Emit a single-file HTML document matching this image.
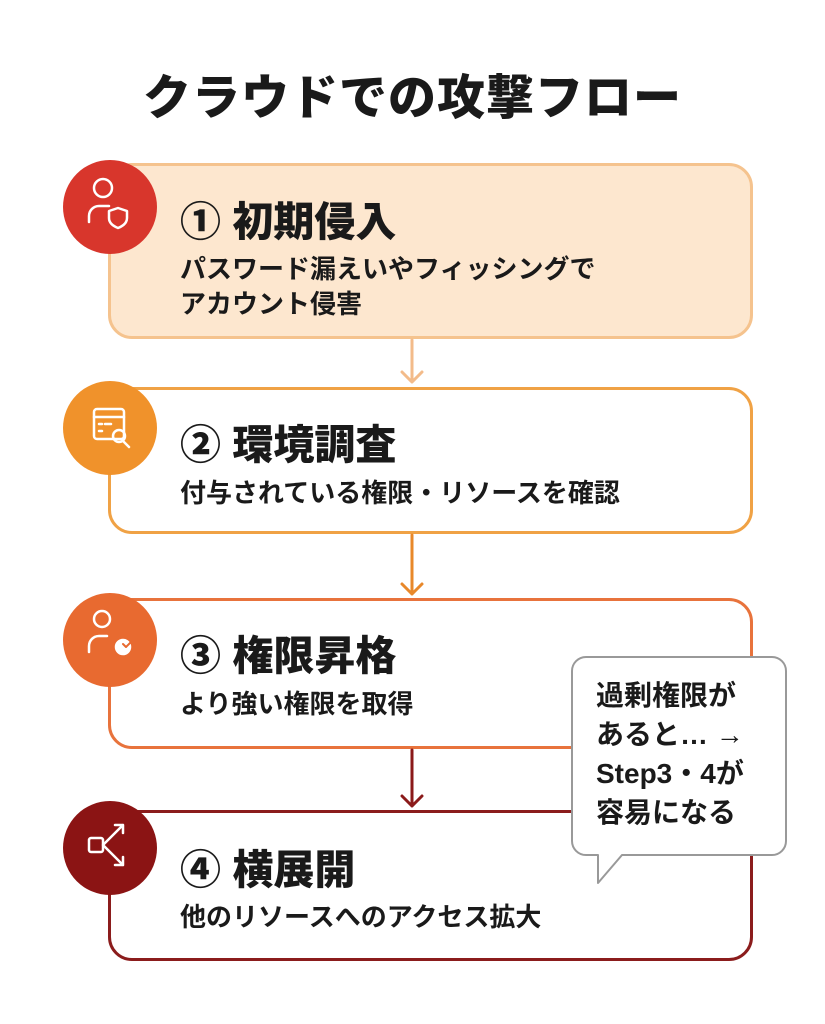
<!DOCTYPE html>
<html><head><meta charset="utf-8"><style>
body{margin:0;width:825px;height:1024px;background:#fff;position:relative;overflow:hidden;font-family:"Liberation Sans","Noto Sans CJK JP",sans-serif;color:#1a1a1a}
.t{position:absolute;left:0;width:825px;text-align:center;top:58px;font-size:48px;font-weight:900;letter-spacing:1px}
.box{position:absolute;left:108px;width:645px;border-radius:24px;box-sizing:border-box;border:3px solid}
.c{position:absolute;width:94px;height:94px;border-radius:50%}
.h{position:absolute;left:180px;font-size:41px;font-weight:900}
.d{position:absolute;left:180px;font-size:26px;font-weight:700;line-height:35px}
svg{position:absolute;left:0;top:0}
</style></head><body>
<div class="t">クラウドでの攻撃フロー</div>
<div class="box" style="top:163px;height:176px;background:#fde7cf;border-color:#f5c38e"></div>
<div class="box" style="top:387px;height:147px;border-color:#f0a245"></div>
<div class="box" style="top:598px;height:151px;border-color:#e8733c"></div>
<div class="box" style="top:810px;height:151px;border-color:#8b1c1c"></div>
<div class="c" style="left:63px;top:160px;background:#d8362c"></div>
<div class="c" style="left:63px;top:381px;background:#f0922b"></div>
<div class="c" style="left:63px;top:593px;background:#e86a30"></div>
<div class="c" style="left:63px;top:801px;background:#8b1414"></div>
<svg width="825" height="1024" fill="none" stroke-linecap="round" stroke-linejoin="round">
<g stroke="#f3bb8a" stroke-width="3"><path d="M412 340V382M402 372L412 382L422 372"/></g>
<g stroke="#e8882a" stroke-width="3"><path d="M412 535V594M402 584L412 594L422 584"/></g>
<g stroke="#8b1a1a" stroke-width="3"><path d="M412 750V806M402 796L412 806L422 796"/></g>
<g stroke="#fff" stroke-width="2.5">
<circle cx="103" cy="188" r="9"/><path d="M89 222v-6a10 10 0 0 1 10-10h10"/><path d="M118 208l9 3v7c0 5-4 8-9 10c-5-2-9-5-9-10v-7z"/>
<rect x="94" y="409" width="30" height="30" rx="3"/><path d="M94 417h30M99 424h3M99 431h3M105 424h6"/><circle cx="119" cy="436" r="6"/><path d="M123 441l6 6"/>
<circle cx="102" cy="619" r="8"/><path d="M89 652v-6a10 10 0 0 1 10-10h8"/><circle cx="123" cy="647" r="7" fill="#fff"/>
<rect x="89" y="838" width="14" height="14" rx="2"/><path d="M103 845l20-20M115 825h8v8M103 845l20 20M115 865h8v-8"/>
</g>
<path d="M123 644l3 3 5-5" stroke="#e86a30" stroke-width="2"/>
<path d="M586 657h186a14 14 0 0 1 14 14v170a14 14 0 0 1-14 14h-150l-24 28v-28h-12a14 14 0 0 1-14-14v-170a14 14 0 0 1 14-14z" fill="#fff" stroke="#999" stroke-width="2"/>
</svg>
<div class="h" style="top:188px">① 初期侵入</div>
<div class="d" style="top:252px">パスワード漏えいやフィッシングで<br>アカウント侵害</div>
<div class="h" style="top:411px">② 環境調査</div>
<div class="d" style="top:476px">付与されている権限・リソースを確認</div>
<div class="h" style="top:622px">③ 権限昇格</div>
<div class="d" style="top:687px">より強い権限を取得</div>
<div class="h" style="top:836px">④ 横展開</div>
<div class="d" style="top:900px">他のリソースへのアクセス拡大</div>
<div style="position:absolute;left:596px;top:676px;font-size:28px;font-weight:700;line-height:39px">過剰権限が<br>あると… →<br>Step3・4が<br>容易になる</div>
</body></html>
